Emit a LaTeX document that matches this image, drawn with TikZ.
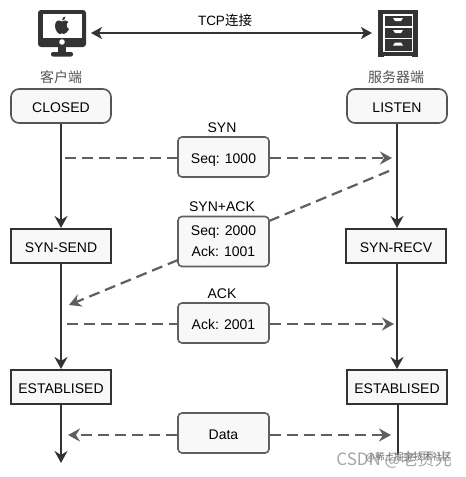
\documentclass[tikz,border=0pt]{standalone}
\usepackage{fontspec}
\setmainfont{Liberation Sans}
\newfontfamily\cjk{Noto Sans CJK SC}
\usetikzlibrary{arrows.meta}
\definecolor{ink}{HTML}{333333}
\definecolor{dashc}{HTML}{5F5F5F}
\definecolor{boxf}{HTML}{F8F8F8}
\definecolor{capc}{HTML}{555555}
\tikzset{
  x=1pt,y=-1pt,
  every node/.style={font=\fontsize{14}{17}\selectfont,text=black,inner sep=0pt},
  lowtext/.style={text height=12pt,text depth=0pt},
  statebox/.style={lowtext,draw=ink,fill=boxf,line width=2pt,minimum width=100pt,minimum height=34pt},
  startbox/.style={lowtext,draw=capc,fill=boxf,line width=1.6pt,rounded corners=8pt,minimum width=100pt,minimum height=34pt},
  msgbox/.style={draw=dashc,fill=boxf,line width=1.6pt,rounded corners=4pt,minimum width=91pt},
  flowline/.style={draw=ink,line width=2.4pt,-{Stealth[length=12pt,width=13pt,inset=4pt]}},
  linkline/.style={draw=ink,line width=2.2pt,{Stealth[length=11pt,width=12pt,inset=3pt]}-{Stealth[length=11pt,width=12pt,inset=3pt]}},
  pktline/.style={draw=dashc,line width=2.2pt,dash pattern=on 11pt off 6pt},
  pkttip/.style={pktline,-{Stealth[length=12pt,width=13pt,inset=4pt]}},
  caplabel/.style={font=\cjk\fontsize{14}{17}\selectfont,text=capc},
  wmlabel/.style={font=\cjk\fontsize{17}{19}\selectfont,text=black!35},
}
\begin{document}
\begin{tikzpicture}
\useasboundingbox (0,0) rectangle (466,477);
\fill[white] (0,0) rectangle (466,477);

% client icon
\fill[ink,rounded corners=3pt] (38,10) rectangle (86,47);
\fill[white] (43,14) rectangle (82,38);
\fill[white] (62,42) circle (2.8);
\fill[ink] (58,47) rectangle (66,53);
\fill[ink,rounded corners=2pt] (51,56.5) -- (51,52) -- (73,52) -- (73,56.5) -- cycle;
\fill[ink] (62,21.5) .. controls (59,19.5) and (55,20) .. (55,26)
  .. controls (55,30) and (58,34) .. (60,34)
  .. controls (61,34) and (61,33.4) .. (62,33.4)
  .. controls (63,33.4) and (63,34) .. (64,34)
  .. controls (66,34) and (68,31) .. (69,29)
  .. controls (66,27.5) and (66,23) .. (68.5,22)
  .. controls (67,20) and (64,20) .. (62,21.5) -- cycle;
\fill[ink] (62,20.5) .. controls (62,18) and (63.5,16.5) .. (65.5,16.5)
  .. controls (65.5,18.5) and (64,20.5) .. (62,20.5) -- cycle;

% server icon
\fill[ink] (378,10) rectangle (418,57);
\fill[white] (383,14) rectangle (413,52);
\fill[ink] (384.5,15.5) rectangle (411.5,26);
\fill[ink] (384.5,27.5) rectangle (411.5,37.5);
\fill[ink] (384.5,39) rectangle (411.5,50.5);
\fill[white] (393,18) -- (403,18) -- (401,21) -- (395,21) -- cycle;
\fill[white] (393,30) -- (403,30) -- (401,33) -- (395,33) -- cycle;
\fill[white] (395,42.5) -- (401,42.5) -- (403,45.5) -- (393,45.5) -- cycle;
\fill[white] (384,55.5) rectangle (412,57);

% anchors of the TCP link
\coordinate (icl) at (91,33);
\coordinate (isv) at (372,33);
\draw[linkline] (icl) -- (isv);
\node (tcp) at (225,20) {\fontsize{13.5}{15}\selectfont TCP\cjk 连接};

\node[caplabel] (clabel) at (61,77) {客户端};
\node[caplabel] (slabel) at (396,77) {服务器端};

% states
\node[startbox] (closed) at (61,106) {CLOSED};
\node[startbox] (listen) at (397,106) {LISTEN};
\node[statebox] (ssend) at (61,246) {SYN-SEND};
\node[statebox] (srecv) at (396,246) {SYN-RECV};
\node[statebox] (estl) at (61,387) {ESTABLISED};
\node[statebox] (estr) at (397,387) {ESTABLISED};

% free ends of the life lines
\coordinate (endl) at (61,463);
\coordinate (endr) at (398,455);

\draw[flowline] (closed.south) -- (ssend.north);
\draw[flowline] (ssend.south) -- (estl.north);
\draw[flowline] (estl.south) -- (endl);
\draw[flowline] (listen.south) -- (srecv.north -| listen.south);
\draw[flowline] (srecv.south -| listen.south) -- (estr.north -| listen.south);
\draw[draw=ink,line width=2.2pt] (estr.south -| endr) -- (endr);

% message boxes
\node[msgbox,lowtext,minimum height=40pt] (syn) at (223.5,157) {Seq: 1000};
\node[msgbox,minimum height=50pt,align=center] (synack) at (223.5,241.5) {Seq: 2000\\[4pt]Ack: 1001};
\node[msgbox,lowtext,minimum height=40pt] (ack) at (223.5,323) {Ack: 2001};
\node[msgbox,lowtext,minimum height=40pt] (data) at (223.5,433) {Data};
\node[lowtext] (lsyn) at (222,126) {SYN};
\node[lowtext] (lsynack) at (222,205) {SYN+ACK};
\node[lowtext] (lack) at (222,292) {ACK};

% packet ends
\coordinate (a1) at (65,158);
\coordinate (a2) at (392,158);
\coordinate (b1) at (389,171);
\coordinate (b2) at (269,221);
\coordinate (b3) at (178,260);
\coordinate (b4) at (69,305);
\coordinate (c1) at (67,324);
\coordinate (c2) at (394,324);
\coordinate (d1) at (68,435);
\coordinate (d2) at (391,435);

\draw[pktline] (a1) -- (a1 -| syn.west);
\draw[pkttip] (a1 -| syn.east) -- (a2);
\draw[pktline] (b1) -- (b2);
\draw[pkttip] (b3) -- (b4);
\draw[pktline] (c1) -- (c1 -| ack.west);
\draw[pkttip] (c1 -| ack.east) -- (c2);
\draw[pkttip] (d1 -| data.west) -- (d1);
\draw[pkttip] (d1 -| data.east) -- (d2);

% watermark
\node[wmlabel,anchor=east] (wm1) at (452,460) {CSDN @老贾光};
\node[anchor=east,font=\cjk\fontsize{9.6}{12}\selectfont,text=black!55] (wm2) at (452,457) {@稀土掘金技术社区};
\end{tikzpicture}
\end{document}
